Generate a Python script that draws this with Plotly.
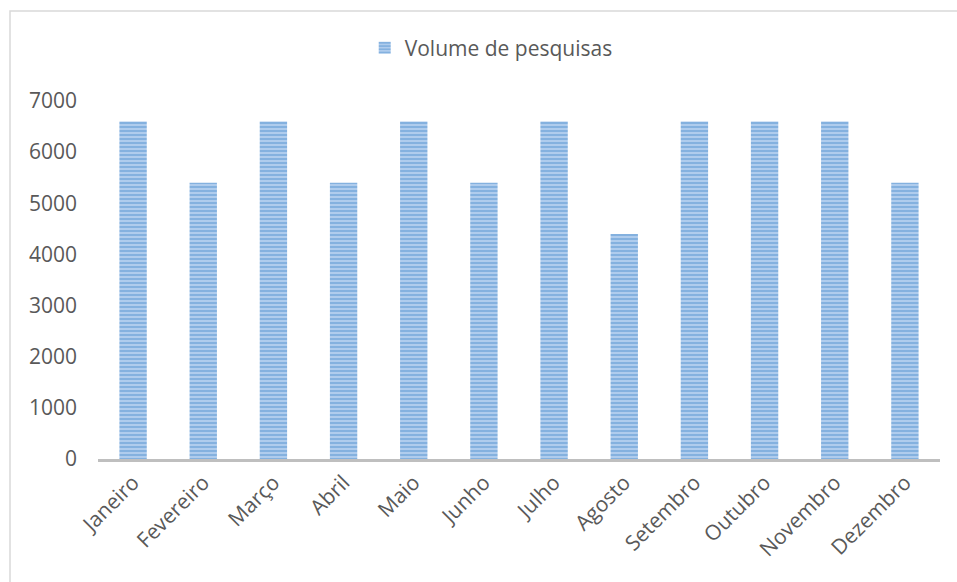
import plotly.graph_objects as go

# Monthly search volume
meses = ["Janeiro", "Fevereiro", "Março", "Abril", "Maio", "Junho",
         "Julho", "Agosto", "Setembro", "Outubro", "Novembro", "Dezembro"]
volume = [6600, 5400, 6600, 5400, 6600, 5400, 6600, 4400, 6600, 6600, 6600, 5400]
y_ticks = [0, 1000, 2000, 3000, 4000, 5000, 6000, 7000]

font_family = "Open Sans, sans-serif"
text_color = "#595959"

fig = go.Figure(
    go.Bar(
        x=meses,
        y=volume,
        name="Volume de pesquisas",
        showlegend=True,
        marker=dict(
            color="#b3cfee",
            line=dict(width=0),
            pattern=dict(shape="-", fgcolor="#5593d0", bgcolor="#b3cfee",
                         size=4, solidity=0.55, fillmode="overlay"),
        ),
    )
)

fig.update_layout(
    width=957,
    height=582,
    margin=dict(l=98, r=17, t=101, b=123),
    paper_bgcolor="white",
    plot_bgcolor="white",
    bargap=0.61,
    font=dict(family=font_family, size=21, color=text_color),
    legend=dict(
        orientation="h",
        x=0.467, xanchor="center",
        y=1.148, yanchor="middle",
        font=dict(family=font_family, size=21, color=text_color),
        itemwidth=30,
    ),
    xaxis=dict(
        tickangle=-45,
        showgrid=False,
        showline=True,
        linecolor="#bfbfbf",
        linewidth=3,
        ticks="",
        tickfont=dict(size=21, color=text_color),
    ),
    yaxis=dict(
        range=[0, 7000],
        tickvals=y_ticks,
        showgrid=False,
        zeroline=False,
        showline=False,
        ticks="",
        ticklabelstandoff=20,
        tickfont=dict(size=21, color=text_color),
    ),
    shapes=[
        dict(type="rect", xref="paper", yref="paper",
             x0=-88 / 842, x1=1.2, y0=-0.6, y1=1 + 90 / 358,
             line=dict(color="#d9d9d9", width=1.5), fillcolor="rgba(0,0,0,0)",
             layer="below"),
    ],
)

fig.write_html("out.html")
